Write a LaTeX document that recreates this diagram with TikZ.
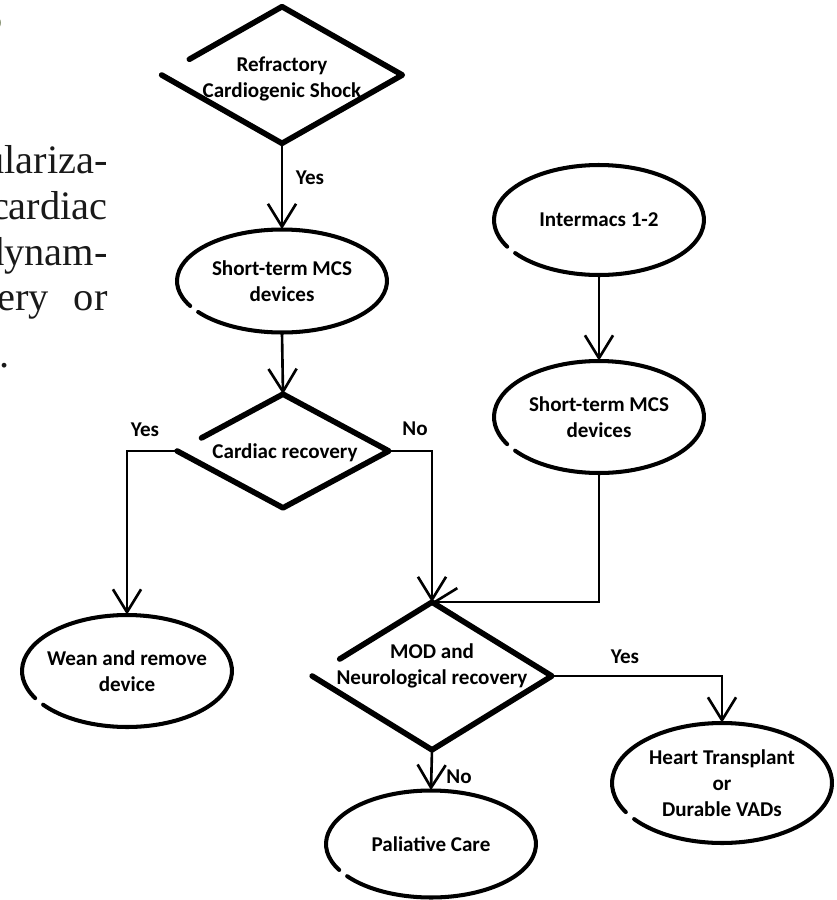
\documentclass[tikz,border=0pt]{standalone}
\usepackage{fontspec}
\setmainfont{Carlito}
\newfontfamily\pagefont{Liberation Serif}
\usetikzlibrary{shapes.geometric, arrows.meta, calc}
\definecolor{headolive}{RGB}{74,90,42}

\begin{document}
\begin{tikzpicture}[x=.02cm, y=-.02cm,
txt/.style={font=\fontsize{12}{14.8}\selectfont\bfseries, align=center, inner sep=0pt},
oval/.style={ellipse, minimum width=4.2cm, minimum height=2.2cm, txt},
rhomb/.style={diamond, inner sep=0pt},
rim/.style={line width=3.2pt, line cap=round, line join=round},
ring/.style={line width=2.3pt, line cap=round},
link/.style={line width=1.5pt, -{Straight Barb[length=13pt, width=16pt]}}]
\useasboundingbox (0,0) rectangle (837,900);
\clip (0,0) rectangle (837,900);
% cut-off page text on the left
\node[font=\pagefont\bfseries\fontsize{24}{24}\selectfont, text=headolive,
anchor=base east, inner sep=0pt] (head) at (3,31) {S};
\begin{scope}[every node/.style={font=\pagefont\fontsize{23}{27}\selectfont,
text=black!90, anchor=base east, inner sep=0pt}]
\node (p1) at (108,173) {ulariza-};
\node (p2) at (108,219) {cardiac};
\node (p3) at (108,265) {dynam-};
\node (p4) at (49,310) {recovery};
\node (p5) at (108,310) {or};
\node[anchor=base west] (p6) at (-1,367) {.};
\end{scope}
% decisions
\node[rhomb, minimum width=4.8cm, minimum height=2.72cm] (shock) at (282,75) {};
\node[txt] (shock-t) at (282,79) {Refractory\\Cardiogenic Shock};
\node[rhomb, minimum width=4.22cm, minimum height=2.26cm] (cardiac) at (283,451) {};
\node[txt] (cardiac-t) at (285,453) {Cardiac recovery};
\node[rhomb, minimum width=4.78cm, minimum height=2.94cm] (mod) at (432,676) {};
\node[txt] (mod-t) at (432,666) {MOD and\\Neurological recovery};
% states
\node[oval, minimum height=2.06cm] (st1) at (282,281) {Short-term MCS\\devices};
\node[oval, minimum height=2.24cm] (wean) at (127,671) {Wean and remove\\device};
\node[oval] (im) at (599,220) {Intermacs 1-2};
\node[oval, minimum height=2.24cm] (st2) at (599,417) {Short-term MCS\\devices};
\node[oval, minimum width=4.4cm, minimum height=2.4cm] (heart) at (722,783)
{Heart Transplant\\or\\Durable VADs};
\node[oval, minimum height=2.14cm] (pal) at (431,844) {Paliative Care};
% hand drawn outlines
\foreach \d in {shock, cardiac, mod}{%
\draw[rim] (\d.west)--(\d.south)--(\d.east)--(\d.north)--($(\d.north)!.77!(\d.west)$);}
\foreach \n/\rx/\ry in {st1/2.1/1.03, wean/2.1/1.12, im/2.1/1.1, st2/2.1/1.12,
heart/2.2/1.2, pal/2.1/1.07}{%
\draw[ring] ([shift={(217:\rx cm and \ry cm)}]\n.center) arc[start angle=217,
end angle=569, x radius=\rx cm, y radius=\ry cm];}
% connectors
\draw[link] (shock.south) -- (st1.north);
\draw[link] (st1.south) -- (cardiac.north);
\draw[link] (cardiac.west) -| (wean.north);
\draw[link] (cardiac.east) -| (mod.north);
\draw[link] (im.south) -- (st2.north);
\draw[link] (st2.south) |- (mod.north);
\draw[link] (mod.east) -| (heart.north);
\draw[link] (mod.south) -- (pal.north);
\node[txt] (yes-a) at (310,178) {Yes};
\node[txt] (yes-b) at (145,430) {Yes};
\node[txt] (no-a) at (415,429) {No};
\node[txt] (yes-c) at (625,657) {Yes};
\node[txt] (no-b) at (459,777) {No};
\end{tikzpicture}
\end{document}
